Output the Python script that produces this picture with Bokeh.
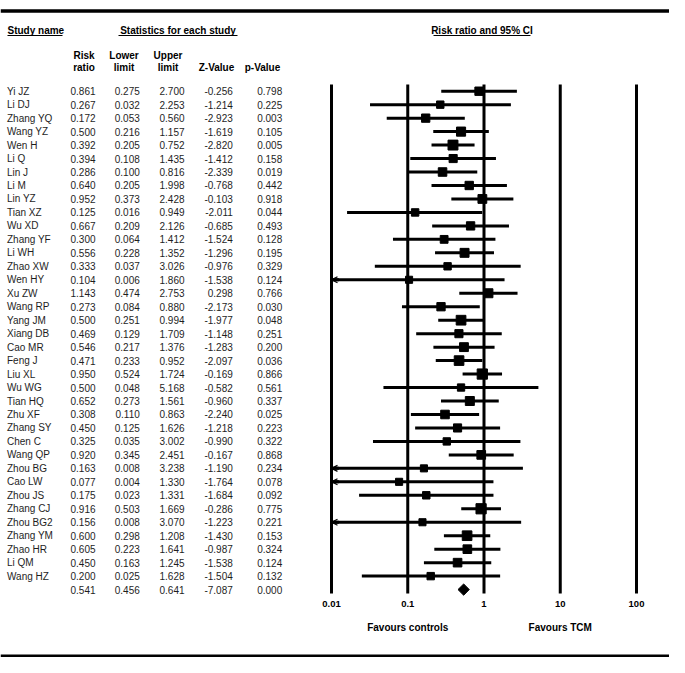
import numpy as np
from bokeh.plotting import figure
from bokeh.models import Range1d, LinearScale, Span, Arrow, OpenHead, ColumnDataSource
from bokeh.core.properties import value
from bokeh.embed import file_html
from bokeh.resources import INLINE

# ---------------- data ----------------
studies = ["Yi JZ", "Li DJ", "Zhang YQ", "Wang YZ", "Wen H", "Li Q", "Lin J", "Li M", "Lin YZ",
           "Tian XZ", "Wu XD", "Zhang YF", "Li WH", "Zhao XW", "Wen HY", "Xu ZW", "Wang RP",
           "Yang JM", "Xiang DB", "Cao MR", "Feng J", "Liu XL", "Wu WG", "Tian HQ", "Zhu XF",
           "Zhang SY", "Chen C", "Wang QP", "Zhou BG", "Cao LW", "Zhou JS", "Zhang CJ",
           "Zhou BG2", "Zhang YM", "Zhao HR", "Li QM", "Wang HZ"]
risk_ratio = [0.861, 0.267, 0.172, 0.500, 0.392, 0.394, 0.286, 0.640, 0.952, 0.125, 0.667,
              0.300, 0.556, 0.333, 0.104, 1.143, 0.273, 0.500, 0.469, 0.546, 0.471, 0.950,
              0.500, 0.652, 0.308, 0.450, 0.325, 0.920, 0.163, 0.077, 0.175, 0.916, 0.156,
              0.600, 0.605, 0.450, 0.200]
lower_limit = [0.275, 0.032, 0.053, 0.216, 0.205, 0.108, 0.100, 0.205, 0.373, 0.016, 0.209,
               0.064, 0.228, 0.037, 0.006, 0.474, 0.084, 0.251, 0.129, 0.217, 0.233, 0.524,
               0.048, 0.273, 0.110, 0.125, 0.035, 0.345, 0.008, 0.004, 0.023, 0.503, 0.008,
               0.298, 0.223, 0.163, 0.025]
upper_limit = [2.700, 2.253, 0.560, 1.157, 0.752, 1.435, 0.816, 1.998, 2.428, 0.949, 2.126,
               1.412, 1.352, 3.026, 1.860, 2.753, 0.880, 0.994, 1.709, 1.376, 0.952, 1.724,
               5.168, 1.561, 0.863, 1.626, 3.002, 2.451, 3.238, 1.330, 1.331, 1.669, 3.070,
               1.208, 1.641, 1.245, 1.628]
z_value = [-0.256, -1.214, -2.923, -1.619, -2.820, -1.412, -2.339, -0.768, -0.103, -2.011,
           -0.685, -1.524, -1.296, -0.976, -1.538, 0.298, -2.173, -1.977, -1.148, -1.283,
           -2.097, -0.169, -0.582, -0.960, -2.240, -1.218, -0.990, -0.167, -1.190, -1.764,
           -1.684, -0.286, -1.223, -1.430, -0.987, -1.538, -1.504]
p_value = [0.798, 0.225, 0.003, 0.105, 0.005, 0.158, 0.019, 0.442, 0.918, 0.044, 0.493,
           0.128, 0.195, 0.329, 0.124, 0.766, 0.030, 0.048, 0.251, 0.200, 0.036, 0.866,
           0.561, 0.337, 0.025, 0.223, 0.322, 0.868, 0.234, 0.078, 0.092, 0.775, 0.221,
           0.153, 0.324, 0.124, 0.132]
summary_rr = 0.541
summary_lower = 0.456
summary_upper = 0.641
summary_z = -7.087
summary_p = 0.000
tick_values = [0.01, 0.1, 1, 10, 100]
tick_labels = ["0.01", "0.1", "1", "10", "100"]
col_headers_top = ["Risk", "Lower", "Upper"]
col_headers_bottom = ["ratio", "limit", "limit", "Z-Value", "p-Value"]

# ---------------- layout constants ----------------
W, H = 669, 657
PX_DEC = 76.25          # pixels per decade
X001 = 331.0            # canvas x of 0.01
ROW_PX = 13.47
ROW0 = 90.7             # canvas y of first row

def row_at(cy):
    return (cy - ROW0) / ROW_PX

lo_log = -2 - X001 / PX_DEC
hi_log = 2 + (W - (X001 + 4 * PX_DEC)) / PX_DEC

FONT = value("Liberation Sans")

p = figure(width=W, height=H, x_axis_type="log",
           x_range=Range1d(10 ** lo_log, 10 ** hi_log),
           y_range=Range1d(row_at(H), row_at(0)),
           output_backend="svg", toolbar_location=None,
           x_axis_location=None, y_axis_location=None, min_border=0)
p.outline_line_color = None
p.grid.visible = False
p.background_fill_color = "white"
p.border_fill_color = "white"
p.extra_x_ranges = {"tbl": Range1d(0, W)}
p.extra_x_scales = {"tbl": LinearScale()}

n = len(studies)
rows = list(range(n))
sum_row = n

# ---------------- rules ----------------
p.add_layout(Span(location=row_at(10.5), dimension="width", line_color="black", line_width=3.5))
p.add_layout(Span(location=row_at(655.5), dimension="width", line_color="black", line_width=3))

# ---------------- headers ----------------
def txt(x, y, t, align="left", bold=False, color="#1e1e1e", rng="tbl", size="10px"):
    kw = dict(x=x, y=y, text=t, text_align=align, text_baseline="middle",
              text_font=FONT, text_font_size=size, text_color=color,
              text_font_style="bold" if bold else "normal")
    if rng:
        kw["x_range_name"] = rng
    p.text(**kw)

y_title = row_at(29.5)
txt([7], [y_title], ["Study name"], bold=True, color="black")
txt([177.5], [y_title], ["Statistics for each study"], align="center", bold=True, color="black")
txt([481.5], [y_title], ["Risk ratio and 95% CI"], align="center", bold=True, color="black")
y_ul = row_at(35)
p.segment(x0=[7, 118, 433], x1=[62, 237, 530], y0=[y_ul] * 3, y1=[y_ul] * 3,
          line_color="black", line_width=1, x_range_name="tbl")

hdr_center = [83.5, 123.5, 167.5, 216, 262]
txt(hdr_center[:3], [row_at(54.5)] * 3, col_headers_top, align="center", bold=True, color="black")
txt(hdr_center, [row_at(66.5)] * 5, col_headers_bottom, align="center", bold=True, color="black")

# ---------------- table values ----------------
val_right = [95, 139.3, 184, 232.3, 281.7]
fmt = lambda v: f"{v:.3f}"
txt([6.5] * n, rows, studies)
cols = [risk_ratio, lower_limit, upper_limit, z_value, p_value]
sums = [summary_rr, summary_lower, summary_upper, summary_z, summary_p]
for xr, col, s in zip(val_right, cols, sums):
    txt([xr] * (n + 1), rows + [sum_row], [fmt(v) for v in col] + [fmt(s)], align="right")

# ---------------- forest ----------------
p.segment(x0=tick_values, x1=tick_values, y0=[row_at(84)] * 5, y1=[row_at(593)] * 5,
          line_color="black", line_width=3)

rr = np.array(risk_ratio)
lo = np.array(lower_limit)
hi = np.array(upper_limit)
x0 = np.maximum(lo, tick_values[0])
x1 = np.minimum(hi, tick_values[-1])
p.segment(x0=x0, x1=x1, y0=rows, y1=rows, line_color="black", line_width=3)

se = (np.log(hi) - np.log(lo)) / (2 * 1.96)
w = 1.0 / se ** 2
sizes = 6.3 + 1.2 * np.sqrt(w)
p.scatter(x=rr, y=rows, marker="square", size=sizes, color="black")

cut = [i for i in rows if lower_limit[i] < tick_values[0]]
arrow_src = ColumnDataSource(dict(xs=[tick_values[0] * 1.25] * len(cut),
                                  xe=[tick_values[0]] * len(cut), y=cut))
p.add_layout(Arrow(end=OpenHead(size=6, line_width=1.2, line_color="black"),
                   x_start="xs", y_start="y", x_end="xe", y_end="y",
                   source=arrow_src, line_width=3, line_color="black"))

dh = 0.42
p.patch(x=[summary_lower, summary_rr, summary_upper, summary_rr],
        y=[sum_row, sum_row - dh, sum_row, sum_row + dh], color="black")

# tick labels and favour labels
txt(tick_values, [row_at(603.5)] * 5, tick_labels, align="center", bold=True,
    color="black", rng=None, size="9.5px")
txt([tick_values[1], tick_values[3]], [row_at(627)] * 2, ["Favours controls", "Favours TCM"],
    align="center", bold=True, color="black", rng=None)

open("out.html", "w").write(file_html(p, INLINE))
